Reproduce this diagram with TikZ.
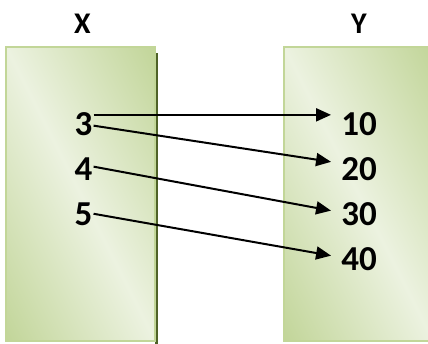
\documentclass[tikz,border=0pt]{standalone}
\usepackage{fontspec}
\setmainfont{Carlito}
\usetikzlibrary{arrows.meta}
\definecolor{setlight}{RGB}{236,242,224}
\definecolor{setdark}{RGB}{192,212,150}
\definecolor{setedge}{RGB}{194,214,152}
\definecolor{setshadow}{RGB}{79,98,40}

\begin{document}
\begin{tikzpicture}[x=1pt,y=-1pt,
  setfill/.style={bottom color=setdark, top color=setdark, middle color=setlight},
  setframe/.style={draw=setedge, line width=1.5pt},
  num/.style={font=\bfseries\fontsize{35}{35}\selectfont, inner sep=0pt, anchor=base},
  head/.style={font=\bfseries\fontsize{30}{30}\selectfont, inner sep=0pt, anchor=base},
  link/.style={line width=2pt, -{Triangle[length=15pt,width=13pt]}}]
\useasboundingbox (0,0) rectangle (428,343);

% drop shadow of the X box
\fill[setshadow] (155,53) rectangle (158,345);

% X box: diagonal gradient, light along the main diagonal
\begin{scope}
  \clip (6,47) rectangle (155,341);
  \begin{scope}[transform canvas={rotate around={-63.1:(80.5,194)}}]
    \shade[setfill] (-89.5,56) rectangle (250.5,332);
  \end{scope}
\end{scope}
\draw[setframe] (6,47) rectangle (155,341);

% Y box, same look
\begin{scope}
  \clip (284,47) rectangle (433,341);
  \begin{scope}[transform canvas={rotate around={-63.1:(358.5,194)}}]
    \shade[setfill] (188.5,56) rectangle (528.5,332);
  \end{scope}
\end{scope}
\draw[setframe] (284,47) rectangle (433,341);

% set names
\node[head] (hx) at (82.5,33) {X};
\node[head] (hy) at (359,33) {Y};

% elements of X
\node[num] (n3) at (83.5,135) {3};
\node[num] (n4) at (83.5,180) {4};
\node[num] (n5) at (83.5,225) {5};

% elements of Y
\node[num] (m10) at (359,135) {10};
\node[num] (m20) at (359,180) {20};
\node[num] (m30) at (359,225) {30};
\node[num] (m40) at (359,270) {40};

% mapping arrows
\draw[link] ([xshift=1pt,yshift=-3pt]n3.north east) -- ([xshift=-10pt,yshift=-3pt]m10.north west);
\draw[link] ([xshift=1pt,yshift=-2pt]n3.east) -- ([xshift=-10pt,yshift=-5pt]m20.north west);
\draw[link] ([xshift=1pt,yshift=2pt]n4.east) -- ([xshift=-10pt,yshift=3pt]m30.west);
\draw[link] ([xshift=1pt,yshift=0pt]n5.east) -- ([xshift=-10pt,yshift=3pt]m40.west);
\end{tikzpicture}
\end{document}
